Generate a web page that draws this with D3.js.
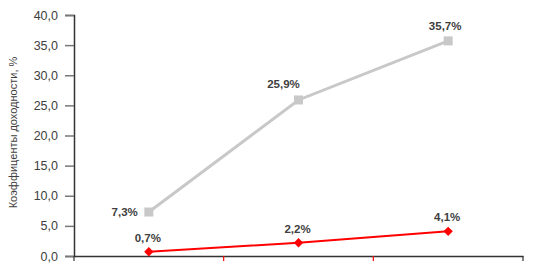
<!DOCTYPE html>
<html>
<head>
<meta charset="utf-8">
<script src="https://cdn.jsdelivr.net/npm/d3@7"></script>
<style>
body { margin: 0; background: #fff; }
svg { font-family: "Liberation Sans", Arial, sans-serif; }
</style>
</head>
<body>
<svg id="chart" width="535" height="265"></svg>
<script>
// data
const categories = ["A", "B", "C"];
const grayValues = [7.3, 25.9, 35.7];
const redValues = [0.7, 2.2, 4.1];
const yTicks = [0, 5, 10, 15, 20, 25, 30, 35, 40];

const svg = d3.select("#chart");
const margin = {left: 74, right: 12, top: 15, bottom: 9};
const width = 535 - margin.left - margin.right;
const height = 265 - margin.top - margin.bottom;

const g = svg.append("g").attr("transform", "translate(" + margin.left + "," + margin.top + ")");

const x = d3.scaleBand().domain(categories).range([0, width]);
const y = d3.scaleLinear().domain([0, 40]).range([height, 0]);
const fmt = v => d3.format(".1f")(v).replace(".", ",");

// y axis
const yAxis = g.append("g").call(d3.axisLeft(y).tickValues(yTicks).tickSize(9).tickPadding(7).tickFormat(fmt));
yAxis.select(".domain").attr("stroke", "#333").attr("stroke-width", 1.5);
yAxis.selectAll(".tick line").attr("stroke", "#777").attr("stroke-width", 1.5);
yAxis.selectAll(".tick text").attr("fill", "#404040").style("font-size", "12.5px");

// x axis
const xAxis = g.append("g").attr("transform", "translate(0," + height + ")")
  .call(d3.axisBottom(x).tickSize(0).tickFormat(""));
xAxis.select(".domain").attr("stroke", "#333").attr("stroke-width", 1.5);
const bounds = [0].concat(categories.map(c => x(c) + x.bandwidth()));
g.selectAll(".xtick").data(bounds).enter().append("line")
  .attr("x1", d => d).attr("x2", d => d)
  .attr("y1", height).attr("y2", height + 5)
  .attr("stroke", (d, i) => (i == 0 || i == bounds.length - 1) ? "#333" : "#f00")
  .attr("stroke-width", 1.2);

// y title
svg.append("text")
  .attr("transform", "translate(17," + (margin.top + height / 2 - 3) + ") rotate(-90)")
  .attr("text-anchor", "middle")
  .attr("fill", "#404040")
  .style("font-size", "11px")
  .text("Коэффиценты доходности, %");

const cx = (d, i) => x(categories[i]) + x.bandwidth() / 2;
const line = d3.line().x(cx).y(d => y(d));

// gray series
g.append("path").datum(grayValues).attr("d", line)
  .attr("fill", "none").attr("stroke", "#c8c8c8").attr("stroke-width", 3);
g.selectAll(".sq").data(grayValues).enter().append("rect")
  .attr("x", (d, i) => cx(d, i) - 4.5).attr("y", d => y(d) - 4.5)
  .attr("width", 9).attr("height", 9).attr("fill", "#c8c8c8");

// red series
g.append("path").datum(redValues).attr("d", line)
  .attr("fill", "none").attr("stroke", "#f00").attr("stroke-width", 2);
g.selectAll(".dm").data(redValues).enter().append("rect")
  .attr("x", -3.3).attr("y", -3.3).attr("width", 6.6).attr("height", 6.6)
  .attr("transform", (d, i) => "translate(" + cx(d, i) + "," + y(d) + ") rotate(45)")
  .attr("fill", "#f00");

// labels
const grayOff = [[-11, 4, "end"], [-15, -12, "middle"], [-3, -11, "middle"]];
g.selectAll(".gl").data(grayValues).enter().append("text")
  .attr("x", (d, i) => cx(d, i) + grayOff[i][0])
  .attr("y", (d, i) => y(d) + grayOff[i][1])
  .attr("text-anchor", (d, i) => grayOff[i][2])
  .attr("fill", "#404040").style("font-size", "11.5px").style("font-weight", "bold")
  .text(d => fmt(d) + "%");
g.selectAll(".rl").data(redValues).enter().append("text")
  .attr("x", (d, i) => cx(d, i) - 1)
  .attr("y", d => y(d) - 10)
  .attr("text-anchor", "middle")
  .attr("fill", "#404040").style("font-size", "11.5px").style("font-weight", "bold")
  .text(d => fmt(d) + "%");
</script>
</body>
</html>
